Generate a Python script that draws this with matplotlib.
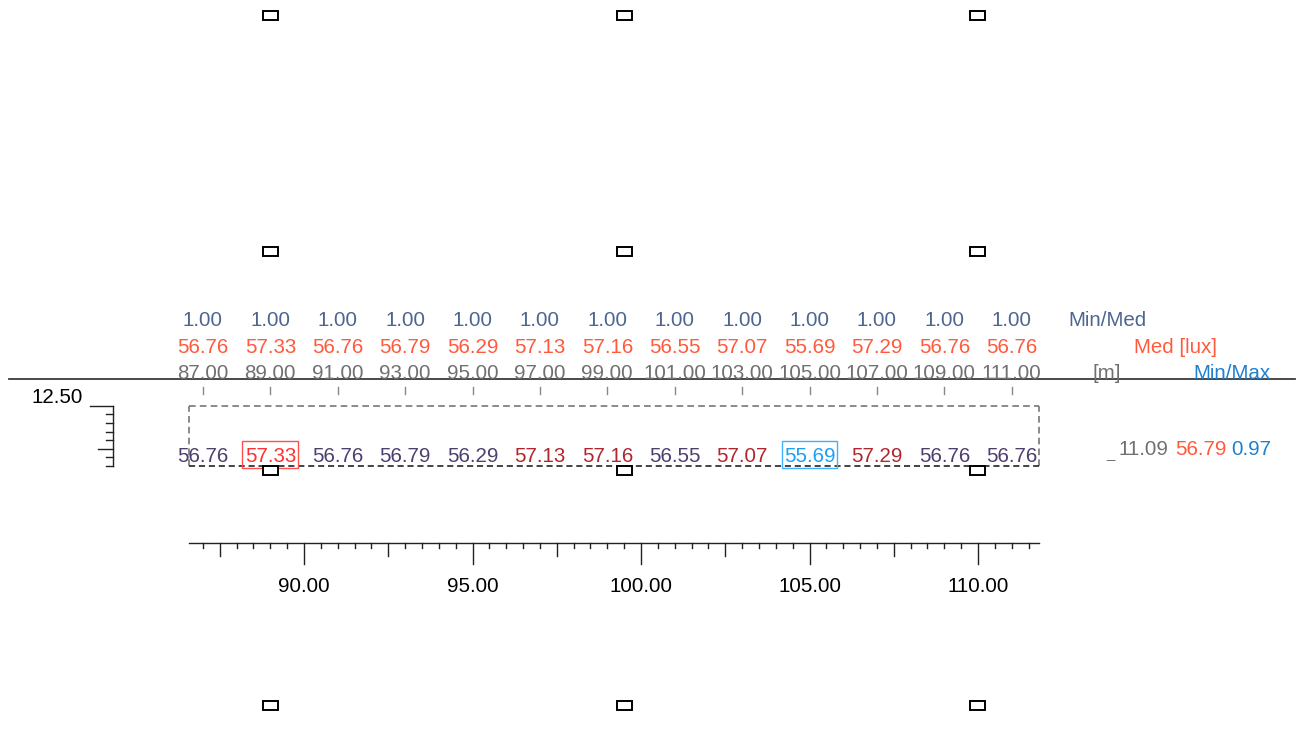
import matplotlib
matplotlib.use("Agg")
import matplotlib.pyplot as plt
from matplotlib.patches import Rectangle
import numpy as np

plt.rcParams['font.family'] = ['Liberation Sans', 'DejaVu Sans']

# ---------------- data ----------------
positions = [87.00, 89.00, 91.00, 93.00, 95.00, 97.00, 99.00, 101.00, 103.00, 105.00, 107.00, 109.00, 111.00]
min_med = [1.00, 1.00, 1.00, 1.00, 1.00, 1.00, 1.00, 1.00, 1.00, 1.00, 1.00, 1.00, 1.00]
med_lux = [56.76, 57.33, 56.76, 56.79, 56.29, 57.13, 57.16, 56.55, 57.07, 55.69, 57.29, 56.76, 56.76]
row_values = [56.76, 57.33, 56.76, 56.79, 56.29, 57.13, 57.16, 56.55, 57.07, 55.69, 57.29, 56.76, 56.76]
row_y = 11.09
summary_y = 11.09
summary_med = 56.79
summary_minmax = 0.97
lum_x = [89.0, 99.5, 110.0]
lum_y = [23.83, 16.98, 10.62, 3.81]
area_x = (86.6, 111.8)
area_y = (10.75, 12.5)
bottom_ticks_major = [90.00, 95.00, 100.00, 105.00, 110.00]
left_label = 12.50

# ---------------- layout / scales ----------------
W, H = 1302, 729
Sx, Sy = 33.7, 34.45          # px per metre
x0 = 90 - 304 / Sx
x1 = x0 + W / Sx
ytop = 12.5 + 405.7 / Sy
ybot = ytop - H / Sy

def ypx(py):
    return ytop - py / Sy

def xpx(px):
    return x0 + px / Sx

fig = plt.figure(figsize=(W / 100, H / 100), dpi=100)
ax = fig.add_axes([0, 0, 1, 1])
ax.set_xlim(x0, x1)
ax.set_ylim(ybot, ytop)
ax.axis('off')

FS = 14.8
DY = 2.0 / Sy   # shift text down slightly (visual centre of digits)
C_MINMED = '#4d6590'
C_MED = '#ff5a3c'
C_POS = '#707070'
C_PURPLE = '#4f3f6e'
C_RED = '#b0262c'
C_MAX = '#ff3030'
C_MIN = '#1aa0f5'
C_BLUE = '#1f80d0'

# header rows
for x, mm, md, p in zip(positions, min_med, med_lux, positions):
    ax.text(x, ypx(321), f"{mm:.2f}", color=C_MINMED, fontsize=FS, ha='center', va='center')
    ax.text(x, ypx(347), f"{md:.2f}", color=C_MED, fontsize=FS, ha='center', va='center')
    ax.text(x, ypx(373.5), f"{p:.2f}", color=C_POS, fontsize=FS, ha='center', va='center')
    ax.plot([x, x], [ypx(387), ypx(394)], color='#888888', lw=1)

ax.text(xpx(1107), ypx(321), "Min/Med", color=C_MINMED, fontsize=FS, ha='center', va='center')
ax.text(xpx(1175), ypx(347), "Med [lux]", color=C_MED, fontsize=FS, ha='center', va='center')
ax.text(xpx(1107), ypx(373.5), "[m]", color=C_POS, fontsize=FS, ha='center', va='center')
ax.text(xpx(1232), ypx(373.5), "Min/Max", color=C_BLUE, fontsize=FS, ha='center', va='center')

# header separator line
ax.plot([xpx(9), xpx(1295)], [ypx(378.5), ypx(378.5)], color='#3a3a3a', lw=1.3)

# calculation area (dashed)
ax.plot([area_x[0], area_x[1]], [area_y[1], area_y[1]], color='#777777', lw=1.2, ls=(0, (4, 2.5)))
ax.plot([area_x[0], area_x[0]], [area_y[0], area_y[1]], color='#777777', lw=1.2, ls=(0, (4, 2.5)))
ax.plot([area_x[1], area_x[1]], [area_y[0], area_y[1]], color='#777777', lw=1.2, ls=(0, (4, 2.5)))
ax.plot([area_x[0], area_x[1]], [area_y[0], area_y[0]], color='#111111', lw=1.1, ls=(0, (4, 2.5)))

# row values
vmax = max(row_values)
vmin = min(row_values)
for x, v in zip(positions, row_values):
    if v == vmax:
        col = C_MAX
        ax.add_patch(Rectangle((x - 0.83, row_y - 0.39), 1.66, 0.78, fill=False,
                               edgecolor='#ff5050', lw=1.0, zorder=3))
    elif v == vmin:
        col = C_MIN
        ax.add_patch(Rectangle((x - 0.83, row_y - 0.39), 1.66, 0.78, fill=False,
                               edgecolor='#40b0ff', lw=1.0, zorder=3))
    elif v > summary_med:
        col = C_RED
    else:
        col = C_PURPLE
    ax.text(x, row_y - DY, f"{v:.2f}", color=col, fontsize=FS, ha='center', va='center', zorder=4)

# summary at right
ax.text(xpx(1106), summary_y, "_", color=C_POS, fontsize=FS - 4, ha='left', va='center')
ax.text(xpx(1168), summary_y + 0.2 - DY, f"{summary_y:.2f}", color=C_POS, fontsize=FS, ha='right', va='center')
ax.text(xpx(1175), summary_y + 0.2 - DY, f"{summary_med:.2f}", color=C_MED, fontsize=FS, ha='left', va='center')
ax.text(xpx(1231), summary_y + 0.2 - DY, f"{summary_minmax:.2f}", color=C_BLUE, fontsize=FS, ha='left', va='center')

# luminaires
lw_m, lh_m = 15 / Sx, 9 / Sy
for ly in lum_y:
    for lx in lum_x:
        ax.add_patch(Rectangle((lx - lw_m / 2, ly - lh_m / 2), lw_m, lh_m, facecolor='white',
                               edgecolor='black', lw=1.4, zorder=5))

# bottom ruler
yl = ypx(542.5)
ax.plot([area_x[0], area_x[1]], [yl, yl], color='#222222', lw=1)
for t in np.arange(87.0, 111.51, 0.5):
    if abs(t / 5 - round(t / 5)) < 1e-6:
        L = 21
    elif abs(t / 2.5 - round(t / 2.5)) < 1e-6:
        L = 13
    else:
        L = 5.5
    ax.plot([t, t], [yl, yl - L / Sy], color='#222222', lw=1)
for t in bottom_ticks_major:
    ax.text(t, ypx(586), f"{t:.2f}", color='black', fontsize=FS, ha='center', va='center')

# left ruler
xl = xpx(113.3)
ax.plot([xl, xl], [area_y[0], area_y[1]], color='#222222', lw=1)
for t in np.arange(10.75, 12.501, 0.25):
    if abs(t / 2.5 - round(t / 2.5)) < 1e-6:
        L = 23
    elif abs(t / 1.25 - round(t / 1.25)) < 1e-6:
        L = 15
    else:
        L = 7
    ax.plot([xl - L / Sx, xl], [t, t], color='#222222', lw=1)
ax.text(xpx(83), left_label - 0.03, f"{left_label:.2f}", color='black', fontsize=FS, ha='right', va='bottom')

fig.savefig("out.png", dpi=100)
